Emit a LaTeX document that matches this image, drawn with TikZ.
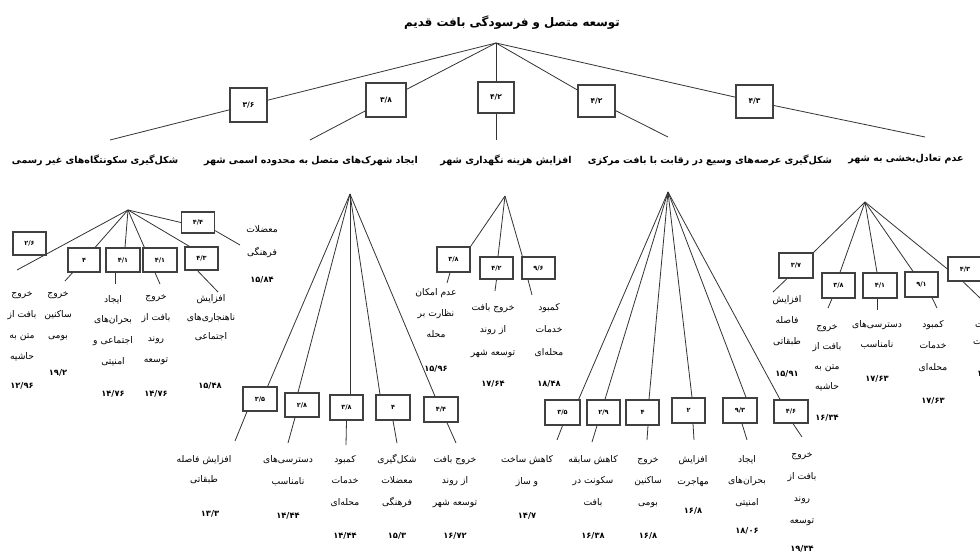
\documentclass[tikz,border=0pt]{standalone}
\usepackage{fontspec}
\newfontfamily\fa[Script=Arabic]{DejaVu Sans}
\TeXXeTstate=1
\usetikzlibrary{calc}
\newcommand\fl[1]{\beginR #1\endR}
\newcommand\stk[2][21]{\vtop{\baselineskip=#1pt\lineskip=0pt\lineskiplimit=-40pt\halign{\hfil##\hfil\cr#2\crcr}}}
\tikzset{
 bx/.style={draw=black!75, line width=1.3pt, fill=white, inner sep=0pt, font=\fa\bfseries\fontsize{6.5}{7}\selectfont},
 tbx/.style={bx, font=\fa\bfseries\fontsize{7.5}{8}\selectfont},
 conn/.style={draw=black!80, line width=0.8pt},
 lbl/.style={inner sep=0pt, anchor=base, font=\fa\fontsize{9.2}{10}\selectfont},
 num/.style={inner sep=0pt, anchor=base, font=\fa\bfseries\fontsize{8.3}{9}\selectfont},
 head/.style={inner sep=0pt, anchor=base, font=\fa\bfseries\fontsize{9.5}{11}\selectfont},
 ttl/.style={inner sep=0pt, anchor=base, font=\fa\bfseries\fontsize{11.8}{13}\selectfont},
}
\begin{document}
\begin{tikzpicture}[x=1pt,y=-1pt]
\path[use as bounding box] (0,0) rectangle (980,556);
\clip (0,0) rectangle (980,556);
\fill[white] (0,0) rectangle (980,556);
% title and top level
\node[ttl] (title) at (512,27) {\fl{توسعه متصل و فرسودگی بافت قدیم}};
\coordinate (r) at (496,43);
\node[tbx,minimum width=37,minimum height=34] (TA) at (248.5,105) {۳/۶};
\node[tbx,minimum width=40,minimum height=34] (TB) at (386,100) {۳/۸};
\node[tbx,minimum width=36,minimum height=31] (TC) at (496,97.5) {۴/۲};
\node[tbx,minimum width=37,minimum height=32] (TD) at (596.5,101) {۴/۲};
\node[tbx,minimum width=37,minimum height=33] (TE) at (754.5,101.5) {۴/۳};
\node[head] (hA) at (95,164) {\fl{شکل‌گیری سکونتگاه‌های غیر رسمی}};
\node[head] (hB) at (311,164) {\fl{ایجاد شهرک‌های متصل به محدوده اسمی شهر}};
\node[head] (hC) at (506,164) {\fl{افزایش هزینه نگهداری شهر}};
\node[head] (hD) at (710,164) {\fl{شکل‌گیری عرصه‌های وسیع در رقابت با بافت مرکزی}};
\node[head] (hE) at (906,162) {\fl{عدم تعادل‌بخشی به شهر}};
\coordinate (hAe) at (110,140);
\coordinate (hBe) at (310,140);
\coordinate (hCe) at (496,140);
\coordinate (hDe) at (668,137);
\coordinate (hEe) at (925,137);
\draw[conn] (r) -- (TA) -- (hAe);
\draw[conn] (r) -- (TB) -- (hBe);
\draw[conn] (r) -- (TC) -- (hCe);
\draw[conn] (r) -- (TD) -- (hDe);
\draw[conn] (r) -- (TE) -- (hEe);
% ---------- subtree A
\coordinate (aA) at (128,210);
\draw[conn] (aA) -- (17,270) coordinate (A1e);
\node[bx,minimum width=33,minimum height=23] (A1) at (29.5,243.5) {۲/۶};
\node[bx,minimum width=32,minimum height=24] (A2) at (84,260) {۴};
\node[bx,minimum width=34,minimum height=24] (A3) at (123,260) {۴/۱};
\node[bx,minimum width=34,minimum height=24] (A4) at (160,260) {۴/۱};
\node[bx,minimum width=33,minimum height=23] (A5) at (201.5,258.5) {۴/۳};
\node[bx,minimum width=33,minimum height=21] (A6) at (198,222.5) {۴/۴};
\coordinate (A2e) at (65,281);
\coordinate (A3e) at (115,284);
\coordinate (A4e) at (160,284);
\coordinate (A5e) at (218,292);
\coordinate (A6e) at (240,245);
\draw[conn] (aA) -- (A2) -- (A2e);
\draw[conn] (aA) -- ($(A3.north)+(2,0)$);
\draw[conn] (A3.south -| A3e) -- (A3e);
\draw[conn] (aA) -- ($(A4.north west)+(2,0)$);
\draw[conn] ($(A4.south)+(-5,0)$) -- (A4e);
\draw[conn] (aA) -- ($(A5.north west)+(5,0)$);
\draw[conn] ($(A5.south)+(-4,0)$) -- (A5e);
\draw[conn] (aA) -- (A6.west);
\draw[conn] ($(A6.south east)+(0,-3)$) -- (A6e);
\node[lbl] (A1l) at (22,296) {\stk{\fl{خروج}\cr\fl{بافت از}\cr\fl{متن به}\cr\fl{حاشیه}}};
\node[num] (A1n) at (22,388) {۱۲/۹۶};
\node[lbl] (A2l) at (58,296) {\stk{\fl{خروج}\cr\fl{ساکنین}\cr\fl{بومی}}};
\node[num] (A2n) at (58,375) {۱۹/۲};
\node[lbl] (A3l) at (113,302) {\stk[20.7]{\fl{ایجاد}\cr\fl{بحران‌های}\cr\fl{اجتماعی و}\cr\fl{امنیتی}}};
\node[num] (A3n) at (113,396) {۱۴/۷۶};
\node[lbl] (A4l) at (156,299) {\stk{\fl{خروج}\cr\fl{بافت از}\cr\fl{روند}\cr\fl{توسعه}}};
\node[num] (A4n) at (156,396) {۱۴/۷۶};
\node[lbl] (A5l) at (211,301) {\stk[19.5]{\fl{افزایش}\cr\fl{ناهنجاری‌های}\cr\fl{اجتماعی}}};
\node[num] (A5n) at (210,388) {۱۵/۴۸};
\node[lbl] (A6l) at (262,233) {\stk[23]{\fl{معضلات}\cr\fl{فرهنگی}}};
\node[num] (A6n) at (262,283) {۱۵/۸۴};
% ---------- subtree B
\coordinate (aB) at (350,194);
\node[bx,minimum width=34,minimum height=24] (B1) at (260,399) {۳/۵};
\node[bx,minimum width=34,minimum height=24] (B2) at (302,405) {۲/۸};
\node[bx,minimum width=33,minimum height=25] (B3) at (346.5,407.5) {۳/۸};
\node[bx,minimum width=34,minimum height=25] (B4) at (393,407.5) {۴};
\node[bx,minimum width=34,minimum height=25] (B5) at (441,409.5) {۴/۴};
\coordinate (B1e) at (235,441);
\coordinate (B2e) at (288,443);
\coordinate (B3e) at (346,445);
\coordinate (B4e) at (397,443);
\coordinate (B5e) at (456,443);
\draw[conn] (aB) -- ($(B1.north east)+(-10,0)$);
\draw[conn] ($(B1.south)+(-13,0)$) -- (B1e);
\draw[conn] (aB) -- ($(B2.north)+(-4,0)$);
\draw[conn] ($(B2.south)+(-7,0)$) -- (B2e);
\draw[conn] (aB) -- ($(B3.north)+(3.5,0)$);
\draw[conn] (B3.south) -- (B3e);
\draw[conn] (aB) -- ($(B4.north)+(-13,0)$);
\draw[conn] (B4.south) -- (B4e);
\draw[conn] (aB) -- ($(B5.north)+(-6,0)$);
\draw[conn] ($(B5.south)+(6,0)$) -- (B5e);
\node[lbl] (B1l) at (204,462) {\stk[20]{\fl{افزایش فاصله}\cr\fl{طبقاتی}}};
\node[num] (B1n) at (210,516) {۱۳/۳};
\node[lbl] (B2l) at (288,462) {\stk[22]{\fl{دسترسی‌های}\cr\fl{نامناسب}}};
\node[num] (B2n) at (288,518) {۱۴/۴۴};
\node[lbl] (B3l) at (345,462) {\stk[21.5]{\fl{کمبود}\cr\fl{خدمات}\cr\fl{محله‌ای}}};
\node[num] (B3n) at (345,538) {۱۴/۴۴};
\node[lbl] (B4l) at (397,462) {\stk[21.5]{\fl{شکل‌گیری}\cr\fl{معضلات}\cr\fl{فرهنگی}}};
\node[num] (B4n) at (397,538) {۱۵/۳};
\node[lbl] (B5l) at (455,462) {\stk[21.5]{\fl{خروج بافت}\cr\fl{از روند}\cr\fl{توسعه شهر}}};
\node[num] (B5n) at (455,538) {۱۶/۷۲};
% ---------- subtree C
\coordinate (aC) at (505,196);
\node[bx,minimum width=33,minimum height=25] (C1) at (453.5,259.5) {۳/۸};
\node[bx,minimum width=33,minimum height=22] (C2) at (496.5,268) {۴/۲};
\node[bx,minimum width=33,minimum height=22] (C3) at (538.5,268) {۹/۶};
\coordinate (C1e) at (447,283);
\coordinate (C2e) at (495,291);
\coordinate (C3e) at (532,295);
\draw[conn] (aC) -- (C1.north east);
\draw[conn] ($(C1.south)+(-3.5,0)$) -- (C1e);
\draw[conn] (aC) -- ($(C2.north)+(1.5,0)$);
\draw[conn] (C2.south) -- (C2e);
\draw[conn] (aC) -- ($(C3.north west)+(1,0)$);
\draw[conn] ($(C3.south)+(-10.5,0)$) -- (C3e);
\node[lbl] (C1l) at (436,295) {\stk{\fl{عدم امکان}\cr\fl{نظارت بر}\cr\fl{محله}}};
\node[num] (C1n) at (436,371) {۱۵/۹۶};
\node[lbl] (C2l) at (493,310) {\stk[22.5]{\fl{خروج بافت}\cr\fl{از روند}\cr\fl{توسعه شهر}}};
\node[num] (C2n) at (493,386) {۱۷/۶۴};
\node[lbl] (C3l) at (549,310) {\stk[22.5]{\fl{کمبود}\cr\fl{خدمات}\cr\fl{محله‌ای}}};
\node[num] (C3n) at (549,386) {۱۸/۴۸};
% ---------- subtree D
\coordinate (aD) at (668,192);
\node[bx,minimum width=35,minimum height=25] (D1) at (562.5,412.5) {۳/۵};
\node[bx,minimum width=33,minimum height=25] (D2) at (603.5,412.5) {۲/۹};
\node[bx,minimum width=33,minimum height=25] (D3) at (642.5,412.5) {۴};
\node[bx,minimum width=33,minimum height=25] (D4) at (688.5,410.5) {۲};
\node[bx,minimum width=34,minimum height=25] (D5) at (740,410.5) {۹/۳};
\node[bx,minimum width=34,minimum height=23] (D6) at (791,411.5) {۴/۶};
\coordinate (D1e) at (557,440);
\coordinate (D2e) at (592,442);
\coordinate (D3e) at (647,440);
\coordinate (D4e) at (694,440);
\coordinate (D5e) at (747,440);
\coordinate (D6e) at (802,437);
\draw[conn] (aD) -- ($(D1.north east)+(-2,0)$);
\draw[conn] (D1.south) -- (D1e);
\draw[conn] (aD) -- ($(D2.north)+(1.5,0)$);
\draw[conn] ($(D2.south)+(-6.5,0)$) -- (D2e);
\draw[conn] (aD) -- ($(D3.north)+(6.5,0)$);
\draw[conn] ($(D3.south)+(5.5,0)$) -- (D3e);
\draw[conn] (aD) -- ($(D4.north)+(3.5,0)$);
\draw[conn] ($(D4.south)+(4.5,0)$) -- (D4e);
\draw[conn] (aD) -- ($(D5.north)+(6,0)$);
\draw[conn] ($(D5.south)+(2,0)$) -- (D5e);
\draw[conn] (aD) -- ($(D6.north)+(-11,0)$);
\draw[conn] ($(D6.south)+(2,0)$) -- (D6e);
\node[lbl] (D1l) at (527,462) {\stk[22]{\fl{کاهش ساخت}\cr\fl{و ساز}}};
\node[num] (D1n) at (527,518) {۱۴/۷};
\node[lbl] (D2l) at (593,462) {\stk[21.5]{\fl{کاهش سابقه}\cr\fl{سکونت در}\cr\fl{بافت}}};
\node[num] (D2n) at (593,538) {۱۶/۳۸};
\node[lbl] (D3l) at (648,462) {\stk[21.5]{\fl{خروج}\cr\fl{ساکنین}\cr\fl{بومی}}};
\node[num] (D3n) at (648,538) {۱۶/۸};
\node[lbl] (D4l) at (693,462) {\stk[22]{\fl{افزایش}\cr\fl{مهاجرت}}};
\node[num] (D4n) at (693,513) {۱۶/۸};
\node[lbl] (D5l) at (747,462) {\stk[21.5]{\fl{ایجاد}\cr\fl{بحران‌های}\cr\fl{امنیتی}}};
\node[num] (D5n) at (747,533) {۱۸/۰۶};
\node[lbl] (D6l) at (802,457) {\stk[22.3]{\fl{خروج}\cr\fl{بافت از}\cr\fl{روند}\cr\fl{توسعه}}};
\node[num] (D6n) at (802,551) {۱۹/۳۴};
% ---------- subtree E
\coordinate (aE) at (865,202);
\node[bx,minimum width=34,minimum height=25] (E1) at (796,265.5) {۳/۷};
\node[bx,minimum width=33,minimum height=25] (E2) at (838.5,285.5) {۳/۸};
\node[bx,minimum width=34,minimum height=25] (E3) at (880,285.5) {۴/۱};
\node[bx,minimum width=33,minimum height=25] (E4) at (921.5,284.5) {۹/۱};
\node[bx,minimum width=34,minimum height=24] (E5) at (965,269) {۴/۳};
\coordinate (E1e) at (773,292);
\coordinate (E2e) at (828,308);
\coordinate (E3e) at (877,310);
\coordinate (E4e) at (937,308);
\coordinate (E5e) at (980,298);
\draw[conn] (aE) -- (E1.north east);
\draw[conn] ($(E1.south)+(-9,0)$) -- (E1e);
\draw[conn] (aE) -- ($(E2.north)+(1.5,0)$);
\draw[conn] ($(E2.south)+(-6.5,0)$) -- (E2e);
\draw[conn] (aE) -- ($(E3.north)+(-3,0)$);
\draw[conn] ($(E3.south)+(-3,0)$) -- (E3e);
\draw[conn] (aE) -- ($(E4.north)+(-8.5,0)$);
\draw[conn] ($(E4.south)+(10.5,0)$) -- (E4e);
\draw[conn] (aE) -- (E5.west);
\draw[conn] ($(E5.south)+(-2,0)$) -- (E5e);
\node[lbl] (E1l) at (787,302) {\stk{\fl{افزایش}\cr\fl{فاصله}\cr\fl{طبقاتی}}};
\node[num] (E1n) at (787,376) {۱۵/۹۱};
\node[lbl] (E2l) at (827,329) {\stk[20.3]{\fl{خروج}\cr\fl{بافت از}\cr\fl{متن به}\cr\fl{حاشیه}}};
\node[num] (E2n) at (827,420) {۱۶/۳۴};
\node[lbl] (E3l) at (877,327) {\stk[20]{\fl{دسترسی‌های}\cr\fl{نامناسب}}};
\node[num] (E3n) at (877,381) {۱۷/۶۳};
\node[lbl] (E4l) at (933,327) {\stk[21.5]{\fl{کمبود}\cr\fl{خدمات}\cr\fl{محله‌ای}}};
\node[num] (E4n) at (933,403) {۱۷/۶۳};
\node[lbl,anchor=base west] (E5l) at (975,327) {\fl{افت کیفیت}};
\node[lbl,anchor=base west] (E5m) at (973,344) {\fl{سکونت}};
\node[num,anchor=base west] (E5n) at (977,376) {۱۶/۲۸};
\end{tikzpicture}
\end{document}
